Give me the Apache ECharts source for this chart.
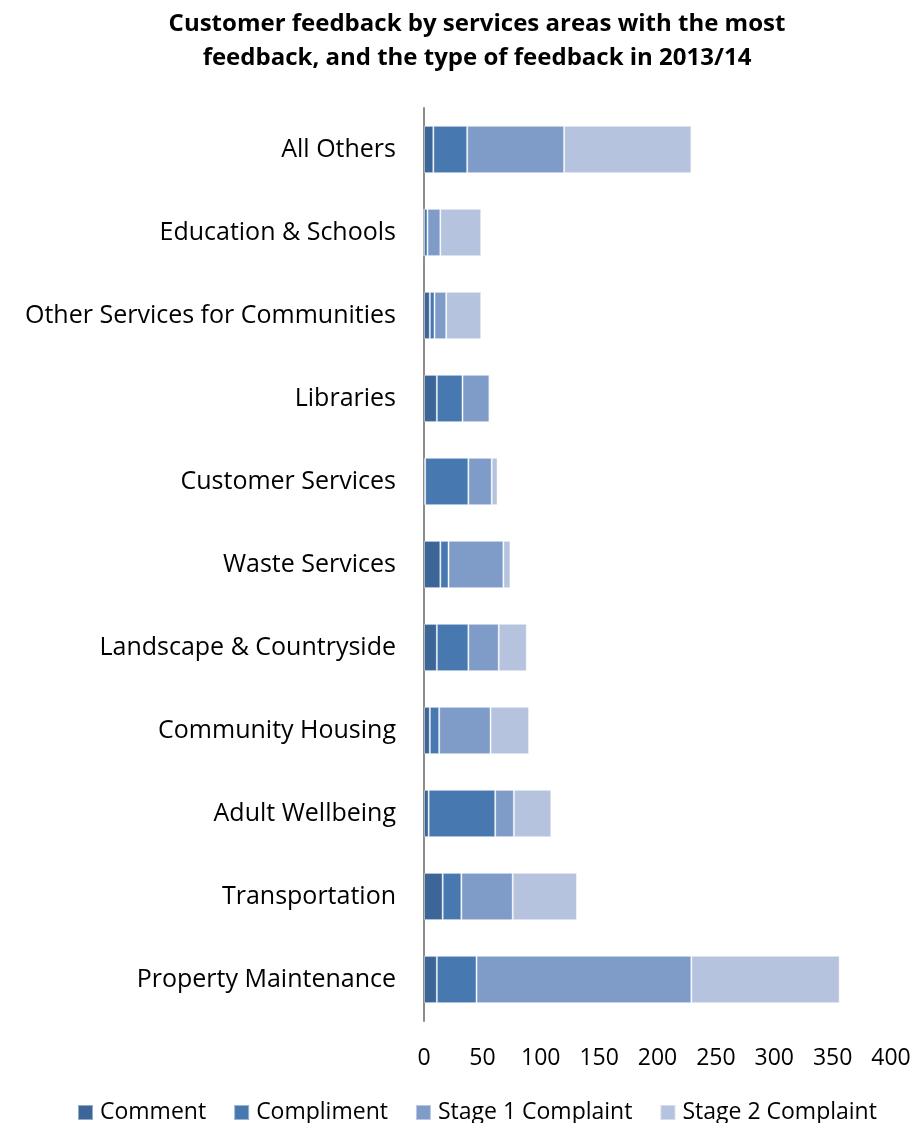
<!DOCTYPE html>
<html>
<head>
<meta charset="utf-8">
<title>Customer feedback 2013/14</title>
<script src="https://cdn.jsdelivr.net/npm/echarts@6/dist/echarts.min.js"></script>
<style>
  html, body { margin: 0; padding: 0; background: #fff; }
  #chart { width: 916px; height: 1123px; }
</style>
</head>
<body>
<div id="chart"></div>
<script>
// Service areas, listed top to bottom
const categories = [
  'All Others',
  'Education & Schools',
  'Other Services for Communities',
  'Libraries',
  'Customer Services',
  'Waste Services',
  'Landscape & Countryside',
  'Community Housing',
  'Adult Wellbeing',
  'Transportation',
  'Property Maintenance'
];

// Number of feedback items per type, same order as categories
const comment       = [8, 0, 5, 11, 1, 14, 11, 5, 4, 16, 11];
const compliment    = [29, 3, 4, 22, 37, 7, 27, 8, 57, 16, 34];
const stage1        = [83, 11, 10, 23, 20, 47, 26, 44, 16, 44, 184];
const stage2        = [109, 35, 30, 1, 5, 6, 24, 33, 32, 55, 127];

const xTicks = { min: 0, max: 400, interval: 50 };

const FONT = '"Open Sans", Lato, sans-serif';

const seriesDefs = [
  { name: 'Comment', data: comment, color: '#3d6698' },
  { name: 'Compliment', data: compliment, color: '#4878b0' },
  { name: 'Stage 1 Complaint', data: stage1, color: '#7f9cc8' },
  { name: 'Stage 2 Complaint', data: stage2, color: '#b5c3de' }
];

const chart = echarts.init(document.getElementById('chart'), null, { renderer: 'canvas' });

chart.setOption({
  backgroundColor: '#ffffff',
  animation: false,
  title: {
    text: 'Customer feedback by services areas with the most\nfeedback, and the type of feedback in 2013/14',
    left: 472,
    textAlign: 'center',
    top: 2,
    textStyle: {
      fontFamily: FONT,
      fontWeight: 'bold',
      fontSize: 24,
      lineHeight: 34,
      color: '#000'
    }
  },
  grid: {
    left: 424,
    right: 25,
    top: 108,
    bottom: 102,
    containLabel: false
  },
  legend: {
    top: 1096,
    left: 72,
    itemWidth: 15,
    itemHeight: 15,
    itemGap: 27,
    icon: 'rect',
    textStyle: { fontFamily: FONT, fontSize: 23, color: '#000', padding: [0, 0, 0, 2] },
    data: seriesDefs.map(s => s.name)
  },
  xAxis: {
    type: 'value',
    min: xTicks.min,
    max: xTicks.max,
    interval: xTicks.interval,
    axisLine: { show: false },
    axisTick: { show: false },
    splitLine: { show: false },
    axisLabel: {
      fontFamily: FONT,
      fontSize: 23,
      color: '#000',
      margin: 26
    }
  },
  yAxis: {
    type: 'category',
    data: categories,
    inverse: true,
    axisLine: { show: true, lineStyle: { color: '#8c8c8c', width: 2 } },
    axisTick: { show: false },
    axisLabel: {
      fontFamily: FONT,
      fontSize: 25,
      color: '#000',
      margin: 28
    }
  },
  series: seriesDefs.map(s => ({
    name: s.name,
    type: 'bar',
    stack: 'total',
    data: s.data,
    barCategoryGap: '43%',
    itemStyle: {
      color: s.color,
      borderColor: 'rgba(255,255,255,0.45)',
      borderWidth: 1
    }
  }))
});
</script>
</body>
</html>
